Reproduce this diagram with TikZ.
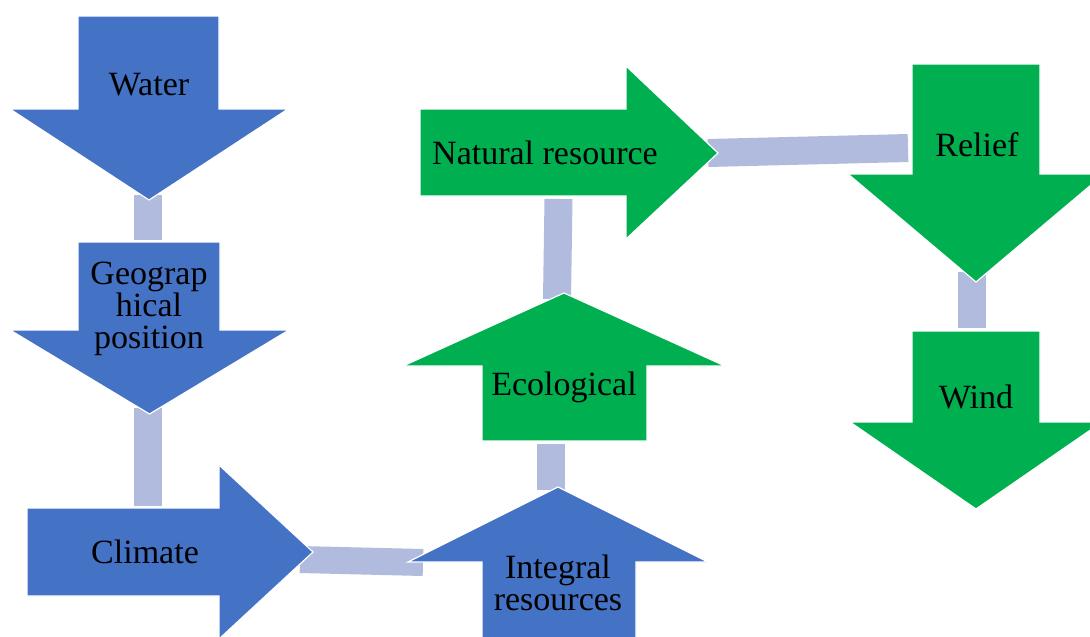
\documentclass[tikz,border=0pt]{standalone}
\usepackage{fontspec}
\setmainfont{Liberation Serif}
\usepackage{tikz}
\usetikzlibrary{positioning}
\pgfdeclarelayer{background}
\pgfsetlayers{background,main}
\definecolor{accblue}{RGB}{68,114,196}
\definecolor{accgreen}{RGB}{0,176,80}
\definecolor{linkgray}{RGB}{177,187,221}
\tikzstyle{bluearrow} = [fill=accblue, draw=white, line width=1.2pt, line join=miter]
\tikzstyle{greenarrow} = [fill=accgreen, draw=white, line width=1.2pt, line join=miter]
\tikzstyle{arrowtext} = [align=center, inner sep=0pt, font=\fontsize{34}{32}\selectfont]
\tikzstyle{link} = [draw=linkgray, line width=28pt]

\begin{document}
\begin{tikzpicture}[x=1pt,y=-1pt]
\useasboundingbox (0,0) rectangle (1090,637);
\filldraw[bluearrow] (78,16) -- (219,16) -- (219,109) -- (288,109) -- (149,200) -- (10,109) -- (78,109) -- cycle;
\filldraw[bluearrow] (78,242) -- (220,242) -- (220,330) -- (289,330) -- (149.5,414) -- (10,330) -- (78,330) -- cycle;
\filldraw[bluearrow] (27,508) -- (219,508) -- (219,465) -- (313,552) -- (219,639) -- (219,596) -- (27,596) -- cycle;
\filldraw[bluearrow] (482,640) -- (482,562) -- (408,562) -- (558,487) -- (708,562) -- (636,562) -- (636,640) -- cycle;
\filldraw[greenarrow] (482,441) -- (482,366) -- (403,366) -- (564,293) -- (725,366) -- (647,366) -- (647,441) -- cycle;
\filldraw[greenarrow] (420,109) -- (626,109) -- (626,66) -- (718,153) -- (626,239) -- (626,196) -- (420,196) -- cycle;
\filldraw[greenarrow] (912,64) -- (1040,64) -- (1040,174) -- (1104,174) -- (976,282) -- (848,174) -- (912,174) -- cycle;
\filldraw[greenarrow] (912,331) -- (1040,331) -- (1040,422) -- (1102,422) -- (976,509) -- (850,422) -- (912,422) -- cycle;

\node[arrowtext] (water) at (149,85) {Water};
\node[arrowtext] (geo) at (149,309) {Geograp\\hical\\position};
\node[arrowtext] (climate) at (145,552) {Climate};
\node[arrowtext] (integral) at (558,583) {Integral\\resources};
\node[arrowtext] (ecological) at (564,387) {Ecological};
\node[arrowtext] (natural) at (545,153) {Natural resource};
\node[arrowtext] (relief) at (977,145) {Relief};
\node[arrowtext] (wind) at (976,397) {Wind};

\coordinate (water-out) at (147.5,195);
\coordinate (geo-in) at (147.5,240);
\coordinate (geo-out) at (147.5,408);
\coordinate (climate-in) at (147.5,506);
\coordinate (climate-out) at (300,559.5);
\coordinate (integral-in) at (423,562.5);
\coordinate (integral-out) at (551,490);
\coordinate (ecological-in) at (551,444);
\coordinate (ecological-out) at (557,299);
\coordinate (natural-in) at (558.5,199);
\coordinate (natural-out) at (708,153);
\coordinate (relief-in) at (908,148);
\coordinate (relief-out) at (971.5,272);
\coordinate (wind-in) at (971.5,328);

\begin{pgfonlayer}{background}
\draw[link] (water-out) -- (geo-in);
\draw[link] (geo-out) -- (climate-in);
\draw[link, line width=27pt] (climate-out) -- (integral-in);
\draw[link] (integral-out) -- (ecological-in);
\draw[link] (ecological-out) -- (natural-in);
\draw[link] (natural-out) -- (relief-in);
\draw[link] (relief-out) -- (wind-in);
\end{pgfonlayer}
\end{tikzpicture}
\end{document}
